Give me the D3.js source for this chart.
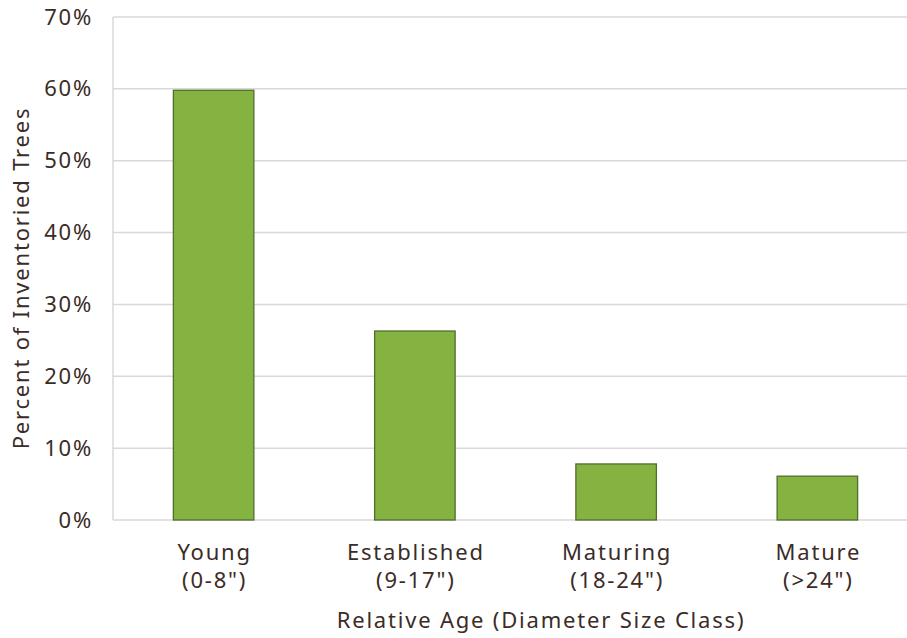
<!DOCTYPE html>
<html>
<head>
<meta charset="utf-8">
<script src="https://cdn.jsdelivr.net/npm/d3@7"></script>
<style>
  html, body { margin: 0; padding: 0; background: #fff; }
  svg { display: block; }
  text { font-family: "Noto Sans", "DejaVu Sans", sans-serif; fill: #3b2c27; letter-spacing: 1.8px; }
</style>
</head>
<body>
<svg id="chart" width="907" height="638"></svg>
<script>
// Share of inventoried trees by relative age class
const categories = ["Young", "Established", "Maturing", "Mature"];
const sizeRanges = ["(0-8\")", "(9-17\")", "(18-24\")", "(>24\")"];
const percentValues = [59.8, 26.3, 7.8, 6.1];
const yTicks = [0, 10, 20, 30, 40, 50, 60, 70];

const svg = d3.select("#chart");
const margin = { left: 113, top: 17, bottom: 118 };
const plotW = 805;
const plotH = 638 - margin.top - margin.bottom;
const fontSize = "22px";

const x = d3.scaleBand().domain(categories).range([0, plotW]).paddingInner(0.6).paddingOuter(0.3);
const y = d3.scaleLinear().domain([0, 70]).range([plotH, 0]);

const g = svg.append("g").attr("transform", `translate(${margin.left},${margin.top})`);

// Horizontal gridlines
g.append("g")
  .selectAll("line")
  .data(yTicks)
  .join("line")
  .attr("x1", 0).attr("x2", plotW)
  .attr("y1", d => y(d)).attr("y2", d => y(d))
  .attr("stroke", "#d9d9d9").attr("stroke-width", 1.5);

// Left axis line
g.append("line")
  .attr("x1", 0).attr("x2", 0).attr("y1", 0).attr("y2", plotH)
  .attr("stroke", "#d9d9d9").attr("stroke-width", 1.5);

// Y axis tick labels
const yAxis = d3.axisLeft(y).tickValues(yTicks).tickFormat(d => d + "%").tickSize(0).tickPadding(20);
const yAxisG = g.append("g").call(yAxis);
yAxisG.select(".domain").remove();
yAxisG.selectAll("text").style("font-size", fontSize).attr("fill", "#3b2c27").attr("font-family", null);

// Bars
g.append("g")
  .selectAll("rect")
  .data(categories)
  .join("rect")
  .attr("x", d => x(d))
  .attr("width", x.bandwidth())
  .attr("y", (d, i) => y(percentValues[i]))
  .attr("height", (d, i) => plotH - y(percentValues[i]))
  .attr("fill", "#84b341")
  .attr("stroke", "#526e2c")
  .attr("stroke-width", 1.3);

// Category labels (two lines)
const xAxis = d3.axisBottom(x).tickSize(0).tickFormat("");
const xAxisG = g.append("g").attr("transform", `translate(0,${plotH})`).call(xAxis);
xAxisG.select(".domain").remove();
xAxisG.selectAll(".tick").each(function(d, i) {
  const t = d3.select(this).append("text")
    .attr("text-anchor", "middle")
    .style("font-size", fontSize)
    .attr("fill", "#3b2c27");
  t.append("tspan").attr("x", 1).attr("y", 40).text(d);
  t.append("tspan").attr("x", 1).attr("y", 68).text(sizeRanges[i]);
});

// Axis titles
svg.append("text")
  .attr("x", 541).attr("y", 628)
  .attr("text-anchor", "middle")
  .style("font-size", fontSize)
  .text("Relative Age (Diameter Size Class)");

svg.append("text")
  .attr("transform", `translate(29,${278}) rotate(-90)`)
  .attr("text-anchor", "middle")
  .style("font-size", fontSize)
  .text("Percent of Inventoried Trees");
</script>
</body>
</html>
